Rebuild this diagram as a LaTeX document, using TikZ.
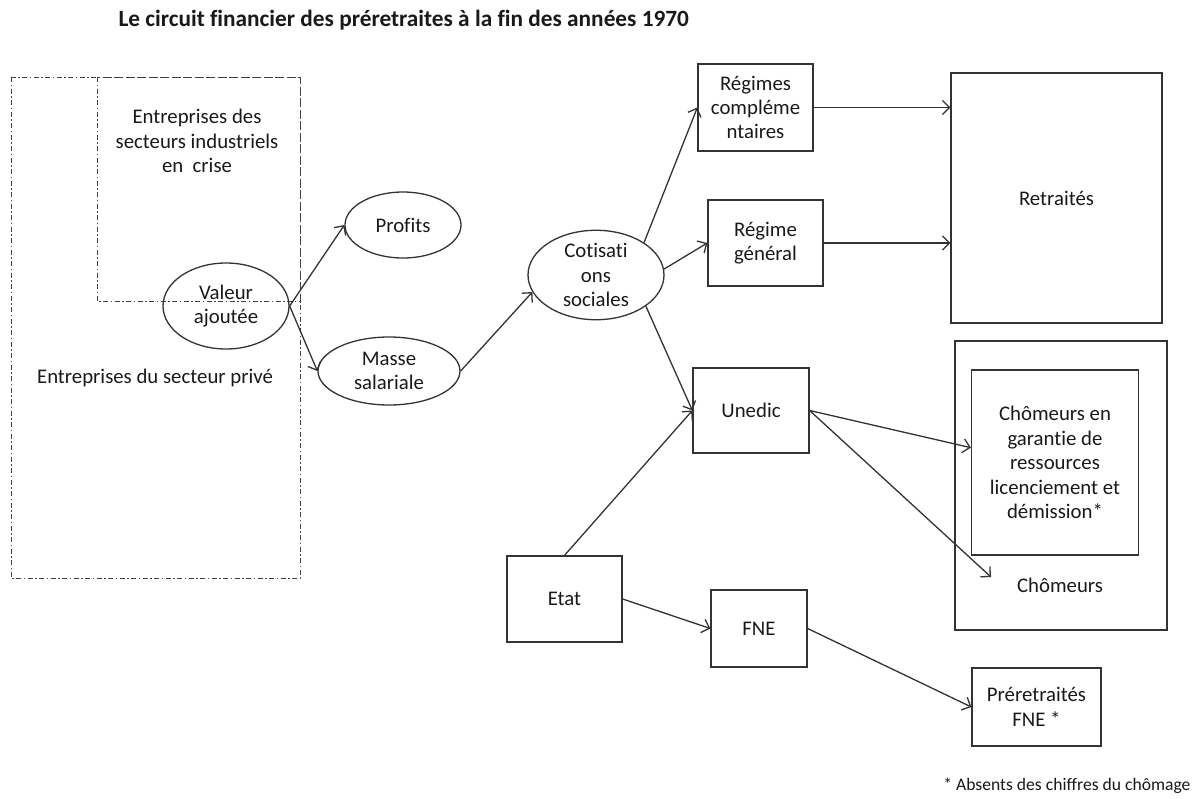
\documentclass[tikz,border=0pt]{standalone}
\usepackage{fontspec}
\setmainfont{Carlito}[Ligatures=NoCommon]
\usetikzlibrary{shapes.geometric,arrows.meta,calc}
\begin{document}
\begin{tikzpicture}[x=1pt,y=-1pt,
  every node/.style={font=\fontsize{20.8}{24.4}\selectfont, text=black!90},
  ln/.style={line width=1.3pt, draw=black!80},
  el/.style={ln, ellipse, inner sep=0pt, align=center},
  bx/.style={ln, rectangle, inner sep=0pt, align=center},
  dd/.style={line width=0.9pt, draw=black!75, dash pattern=on 5pt off 2.5pt on 1.5pt off 2.5pt},
  arr/.style={ln, -{Straight Barb[length=7pt,width=14pt]}}
]
\useasboundingbox (0,0) rectangle (1199,798);

% title
\node[anchor=west, font=\bfseries\fontsize{23.3}{28}\selectfont] (title) at (115,20) {Le circuit financier des préretraites à la fin des années 1970};

% dash-dot company boxes
\draw[dd] (11,77) rectangle (300,578);
\draw[dd] (97,77) rectangle (300,301);
\node[align=center] (crise) at (197,141) {Entreprises des\\secteurs industriels\\en\ \ crise};
\node (prive) at (155,378) {Entreprises du secteur privé};

% ellipses
\node[el, minimum width=126pt, minimum height=86pt] (va) at (226,306) {Valeur\\ajoutée};
\node[el, minimum width=116pt, minimum height=66pt] (prof) at (403,225) {Profits};
\node[el, minimum width=142pt, minimum height=68pt] (ms) at (389,371) {Masse\\salariale};
\node[el, minimum width=136pt, minimum height=80pt] (cot) at (596,275) {Cotisati\\ons\\sociales};

% boxes
\node[bx, minimum width=115pt, minimum height=87pt] (rc) at (755.5,107.5) {Régimes\\compléme\\ntaires};
\node[bx, minimum width=115pt, minimum height=86pt] (rg) at (765.5,243) {Régime\\général};
\node[bx, minimum width=211pt, minimum height=250pt] (ret) at (1056.5,198) {Retraités};
\node[bx, minimum width=116pt, minimum height=85pt] (un) at (751,410.5) {Unedic};
\node[bx, minimum width=115pt, minimum height=86pt] (etat) at (564.5,599) {Etat};
\node[bx, minimum width=96pt, minimum height=77pt] (fne) at (759,628.5) {FNE};
\node[bx, minimum width=212pt, minimum height=289pt] (cho) at (1061,485.5) {};
\node[bx, minimum width=167pt, minimum height=185pt] (ci) at (1055,462.5) {Chômeurs en\\garantie de\\ressources\\licenciement et\\démission*};
\node (chl) at (1060,585) {Chômeurs};
\coordinate (chtip) at (991,577);
\node[bx, minimum width=129pt, minimum height=78pt] (pf) at (1036.5,707) {Préretraités\\FNE *};

% footnote
\node[anchor=east, font=\fontsize{17.6}{21}\selectfont] (note) at (1194,786) {* Absents des chiffres du chômage};

% connectors
\draw[arr] (va.east) -- (prof.west);
\draw[arr] (va.east) -- (ms.west);
\draw[arr] (ms.east) -- (cot.195);
\draw[arr] (cot.34) -- (rc.west);
\draw[arr] (cot.5) -- (rg.west);
\draw[arr] (cot.-32) -- (un.west);
\draw[arr] (etat.north) -- (un.west);
\draw[arr] (etat.east) -- (fne.west);
\draw[arr] (rc.east) -- (rc.east -| ret.west);
\draw[arr] (rg.east) -- (rg.east -| ret.west);
\draw[arr] (un.east) -- (ci.170);
\draw[arr] (un.east) -- (chtip);
\draw[arr] (fne.east) -- (pf.west);
\end{tikzpicture}
\end{document}
